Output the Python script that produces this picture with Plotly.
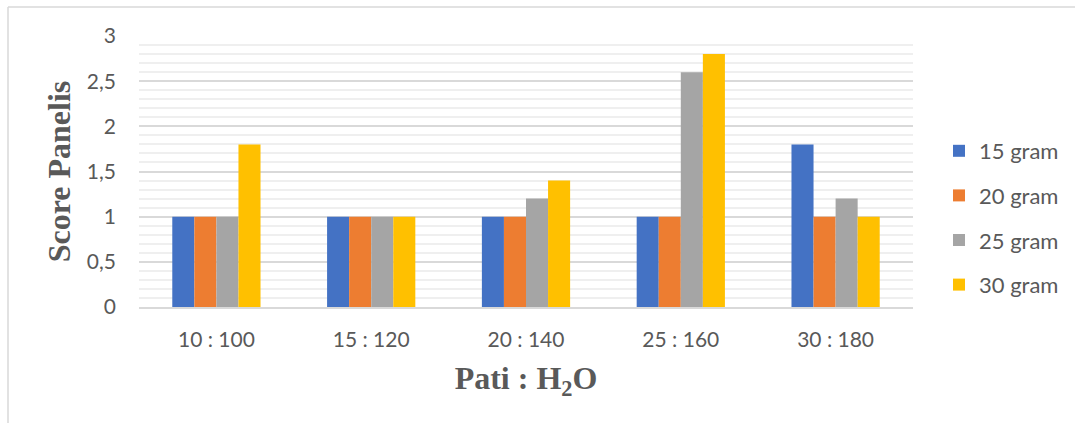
import plotly.graph_objects as go

# Ratio categories (pati : air) and panel scores per starch weight
categories = ["10 : 100", "15 : 120", "20 : 140", "25 : 160", "30 : 180"]
series_names = ["15 gram", "20 gram", "25 gram", "30 gram"]
score_15 = [1, 1, 1, 1, 1.8]
score_20 = [1, 1, 1, 1, 1]
score_25 = [1, 1, 1.2, 2.6, 1.2]
score_30 = [1.8, 1, 1.4, 2.8, 1]
y_ticks = [0, 0.5, 1, 1.5, 2, 2.5, 3]

colors = ["#4472C4", "#ED7D31", "#A5A5A5", "#FFC000"]
all_scores = [score_15, score_20, score_25, score_30]

W, H = 1075, 423
L, R, T, B = 139, 162, 36, 116

fig = go.Figure()
for name, vals, col in zip(series_names, all_scores, colors):
    fig.add_trace(go.Bar(
        x=categories, y=vals, name=name, legendgroup=name,
        marker=dict(color=col, line=dict(width=0)),
    ))

tick_font = dict(family="Lato, 'Open Sans', sans-serif", size=21, color="#595959")
title_font = dict(family="'Liberation Serif', 'Times New Roman', serif", size=32, color="#595959")

pw, ph = W - L - R, H - T - B

fig.update_layout(
    width=W, height=H,
    margin=dict(l=L, r=R, t=T, b=B, autoexpand=False),
    paper_bgcolor="white", plot_bgcolor="white",
    barmode="group", bargap=0.43, bargroupgap=0,
    separators=", ",
    legend=dict(
        x=(939 - L) / pw, xanchor="left",
        y=(H - B - 218) / ph, yanchor="middle",
        font=dict(family="Lato, 'Open Sans', sans-serif", size=22, color="#595959"),
        traceorder="grouped", tracegroupgap=13,
        itemwidth=30,
    ),
    xaxis=dict(
        title=dict(text="<b>Pati : H<sub>2</sub>O</b>", font=title_font, standoff=17),
        tickfont=tick_font, showline=True, linecolor="#d9d9d9", linewidth=1.5,
        showgrid=False, ticks="", ticklabelstandoff=13,
    ),
    yaxis=dict(
        title=dict(text="<b>Score Panelis</b>", font=title_font, standoff=6),
        range=[0, 3], tickvals=y_ticks, tickfont=tick_font,
        showgrid=True, gridcolor="#d9d9d9", gridwidth=1.5,
        minor=dict(dtick=0.1, showgrid=True, gridcolor="#efefef", gridwidth=2),
        zeroline=False, ticks="", ticklabelstandoff=22,
    ),
)

# Light chart-area frame along the top and left
x_left = (8 - L) / pw
y_top = (H - B - 7) / ph
fig.add_shape(type="line", xref="paper", yref="paper",
              x0=x_left, x1=(W + 5 - L) / pw, y0=y_top, y1=y_top,
              line=dict(color="#d9d9d9", width=1.5))
fig.add_shape(type="line", xref="paper", yref="paper",
              x0=x_left, x1=x_left, y0=y_top, y1=-(B + 5) / ph,
              line=dict(color="#d9d9d9", width=1.5))

fig.write_html("out.html")
